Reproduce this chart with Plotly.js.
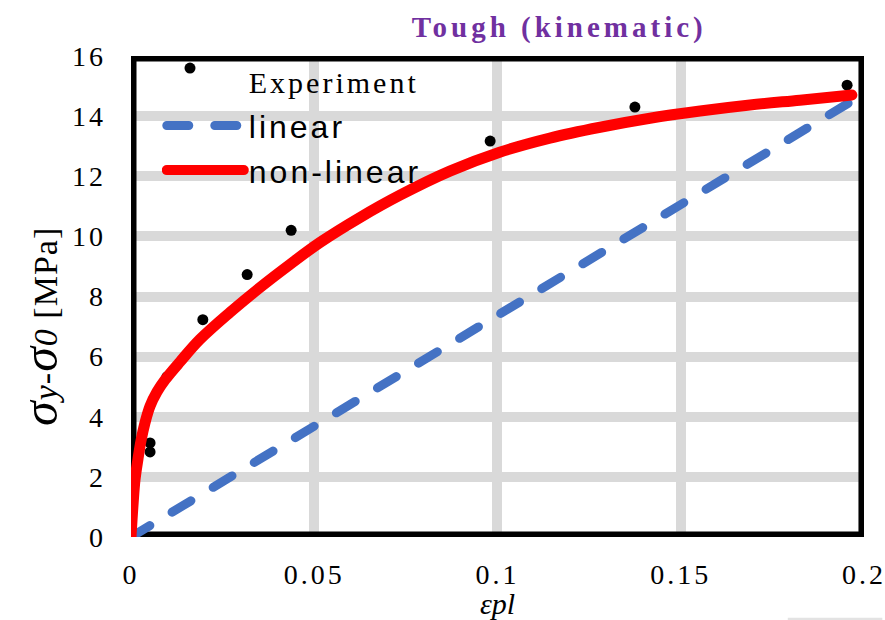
<!DOCTYPE html>
<html>
<head>
<meta charset="utf-8">
<script src="https://cdn.plot.ly/plotly-3.0.1.min.js"></script>
<style>
  body { margin: 0; background: #fff; }
  #chart { width: 885px; height: 620px; }
  .xtick text, .ytick text { letter-spacing: 3px; }
  .gtitle { letter-spacing: 4px; }
  .legendtext { letter-spacing: 3px; }
  .annotation-text { letter-spacing: 1px; }
  .scatterlayer .js-line { stroke-linecap: round; stroke-linejoin: round; }
  .legendlines path { stroke-linecap: round; }
  .shapelayer path { stroke-linejoin: round; }
</style>
</head>
<body>
<div id="chart"></div>
<script>
// Measured hardening points: plastic strain vs. stress increase (MPa)
const expStrain = [-0.0025, 0.0052, 0.0052, 0.0098, 0.0161, 0.0196, 0.0317, 0.0437, 0.098, 0.1375, 0.1954];
const expStress = [0.2, 2.83, 3.13, 5.33, 15.6, 7.23, 8.73, 10.2, 13.17, 14.3, 15.03];

// Linear kinematic hardening fit
const linStrain = [0, 0.1967];
const linStress = [0, 14.5];

// Non-linear kinematic hardening fit
const nlStrain = [0, 0.00055, 0.00109, 0.00191, 0.00273, 0.00382, 0.00518, 0.0071, 0.0093, 0.0134,
                  0.0188, 0.0270, 0.0352, 0.0434, 0.0516, 0.0625, 0.0734, 0.0870, 0.1006, 0.1143,
                  0.1280, 0.1416, 0.1553, 0.1689, 0.1825, 0.1967];
const nlStress = [0, 1.07, 1.9, 2.6, 3.2, 3.8, 4.35, 4.83, 5.23, 5.83,
                  6.57, 7.47, 8.3, 9.07, 9.8, 10.63, 11.37, 12.17, 12.8, 13.27,
                  13.63, 13.93, 14.17, 14.37, 14.53, 14.7];

const xTicks = [0, 0.05, 0.1, 0.15, 0.2];
const xTickText = ['0', '0.05', '0.1', '0.15', '0.2'];
const yTicks = [0, 2, 4, 6, 8, 10, 12, 14, 16];

const serif = 'Liberation Serif, Times New Roman, serif';
const sans = 'Liberation Sans, Arial, sans-serif';

const traces = [
  { // legend entry for the measured points (text only)
    x: [null], y: [null], mode: 'lines',
    name: '<span style="font-family:Liberation Serif;font-size:30px">Experiment</span>',
    line: { color: 'rgba(0,0,0,0)', width: 1 }, hoverinfo: 'skip'
  },
  {
    x: expStrain, y: expStress, mode: 'markers', showlegend: false, cliponaxis: false,
    marker: { color: '#000', size: 11 }
  },
  {
    x: linStrain, y: linStress, mode: 'lines', name: 'linear',
    line: { color: '#4472C4', width: 9, dash: '22px,26px' }
  },
  {
    x: nlStrain, y: nlStress, mode: 'lines', name: 'non-linear',
    line: { color: '#FF0000', width: 11, shape: 'spline', smoothing: 1 }
  }
];

const layout = {
  width: 885, height: 620,
  margin: { l: 131, r: 21, t: 56, b: 83 },
  paper_bgcolor: '#fff', plot_bgcolor: '#fff',
  font: { family: serif, color: '#000' },
  title: {
    text: '<b>Tough (kinematic)</b>',
    font: { family: serif, size: 29, color: '#7030A0' },
    x: 0.632, xanchor: 'center', xref: 'container',
    y: 0.956, yanchor: 'middle', yref: 'container'
  },
  xaxis: {
    range: [0, 0.20001], tickvals: xTicks, ticktext: xTickText,
    showgrid: true, gridcolor: '#d9d9d9', gridwidth: 10,
    zeroline: false, showline: false, ticks: '',
    tickfont: { family: serif, size: 28, color: '#000' },
    ticklabelstandoff: 18, ticklabeloverflow: 'allow',
    title: { text: '<i>εpl</i>', font: { family: serif, size: 30, color: '#000' }, standoff: 9 }
  },
  yaxis: {
    range: [0, 16], tickvals: yTicks,
    showgrid: true, gridcolor: '#d9d9d9', gridwidth: 10,
    zeroline: false, showline: false, ticks: '',
    tickfont: { family: serif, size: 28, color: '#000' },
    ticklabelstandoff: 24
  },
  annotations: [
    { // vertical axis label
      text: '<i><span style="font-size:50px">σ</span>y-<span style="font-size:50px">σ</span>0</i> [MPa]',
      font: { family: serif, size: 34, color: '#000' },
      textangle: -90, showarrow: false,
      xref: 'paper', x: -0.124, xanchor: 'center',
      yref: 'paper', y: 0.437, yanchor: 'middle'
    }
  ],
  legend: {
    x: 0.042, xanchor: 'left', y: 1.005, yanchor: 'top',
    bgcolor: 'rgba(0,0,0,0)', borderwidth: 0,
    font: { family: sans, size: 32, color: '#000' },
    itemwidth: 77, tracegroupgap: 0
  },
  shapes: [
    { // plot frame
      type: 'rect', xref: 'x', yref: 'y', x0: 0, x1: 0.2, y0: 0, y1: 16,
      line: { color: '#000', width: 11 }, layer: 'between'
    },
    {
      type: 'rect', xref: 'paper', yref: 'paper', x0: 0.896, x1: 1.025, y0: -0.168, y1: -0.2,
      fillcolor: '#e3e3e3', line: { width: 0 }, layer: 'below'
    }
  ],
  showlegend: true
};

Plotly.newPlot('chart', traces, layout, { displayModeBar: false, staticPlot: true });
</script>
</body>
</html>
